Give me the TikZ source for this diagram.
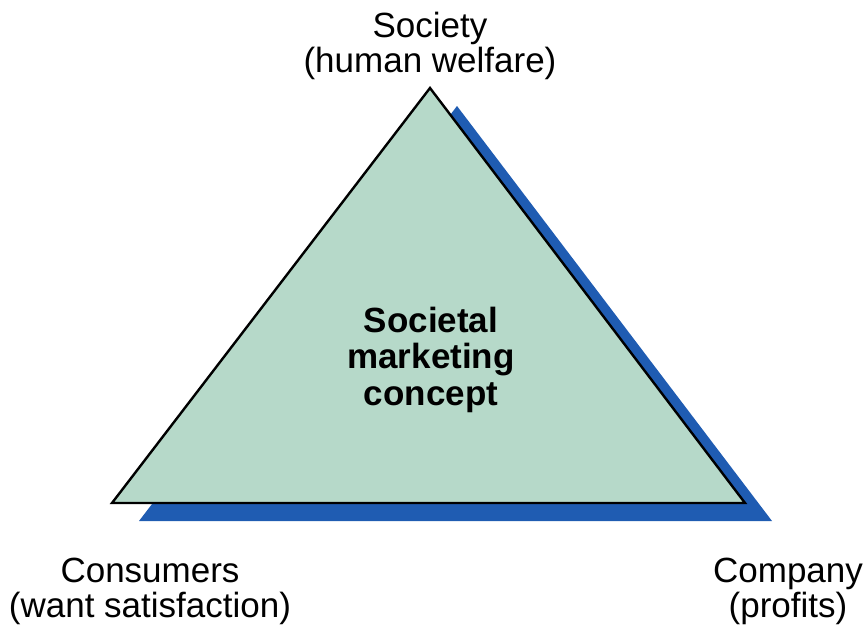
\documentclass[tikz,border=0pt]{standalone}
\usepackage{fontspec}
\setmainfont{Liberation Sans}
\definecolor{trifill}{RGB}{182,217,201}
\definecolor{shadowblue}{RGB}{31,92,178}
\begin{document}
\begin{tikzpicture}[x=1pt,y=-1pt,
  lbl/.style={align=center,inner sep=0pt,font=\fontsize{35}{35}\selectfont},
  ctr/.style={align=center,inner sep=0pt,font=\fontsize{35}{36.5}\selectfont\bfseries}]
\useasboundingbox (0,0) rectangle (866,627);
\coordinate (A) at (430,88);
\coordinate (B) at (112,503);
\coordinate (C) at (745,503);
\fill[shadowblue] ([shift={(27,18)}]A) -- ([shift={(27,18)}]B) -- ([shift={(27,18)}]C) -- cycle;
\draw[line width=2.4pt,fill=trifill,line join=miter] (A) -- (B) -- (C) -- cycle;
\node[ctr,anchor=base] (center) at (431,405) {Societal\\marketing\\concept};
\node[lbl,anchor=base] (soc) at (430,72) {Society\\(human welfare)};
\node[lbl,anchor=base] (cons) at (150,617) {Consumers\\(want satisfaction)};
\node[lbl,anchor=base] (comp) at (788,617) {Company\\(profits)};
\end{tikzpicture}
\end{document}
